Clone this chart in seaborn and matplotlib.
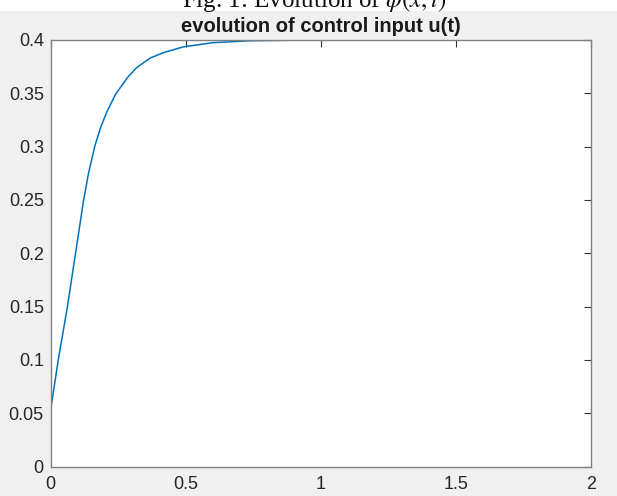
import matplotlib
matplotlib.use("Agg")
import matplotlib.pyplot as plt
import seaborn as sns
import pandas as pd
from matplotlib.patches import Rectangle

# valeurs
t = [0.0, 0.0, 0.004, 0.028, 0.062, 0.092, 0.122, 0.140, 0.164, 0.185, 0.207,
     0.24, 0.285, 0.318, 0.368, 0.416, 0.49, 0.6, 0.74, 0.9, 1.0, 1.5, 2.0]
u = [0.0, 0.055, 0.06, 0.1, 0.15, 0.2, 0.25, 0.275, 0.301, 0.318, 0.332,
     0.349, 0.365, 0.374, 0.383, 0.388, 0.3935, 0.3975, 0.3993, 0.3998, 0.4, 0.4, 0.4]
xticks = [0, 0.5, 1, 1.5, 2]
yticks = [0, 0.05, 0.1, 0.15, 0.2, 0.25, 0.3, 0.35, 0.4]
ytick_labels = ["0", "0.05", "0.1", "0.15", "0.2", "0.25", "0.3", "0.35", "0.4"]
xtick_labels = ["0", "0.5", "1", "1.5", "2"]

df = pd.DataFrame({"t": t, "u": u})

sns.set_style("white")
plt.rcParams["font.family"] = ["Liberation Sans", "DejaVu Sans"]
plt.rcParams["mathtext.fontset"] = "stix"

fig = plt.figure(figsize=(6.17, 4.96), dpi=100)
fig.patch.set_facecolor("#f0f0f0")

# bande blanche du haut avec la légende coupée
fig.patches.append(Rectangle((0, 1 - 11 / 496), 1, 11 / 496, transform=fig.transFigure,
                             facecolor="white", edgecolor="none", zorder=0))
fig.text(0.51, 1 - 7 / 496, r"Fig. 1: Evolution of $\phi(x,t)$", ha="center", va="baseline",
         fontsize=18, family=["Liberation Serif", "DejaVu Serif"], color="#111111")

ax = fig.add_axes([50.7 / 617, 1 - 466.5 / 496, 540 / 617, 426.5 / 496])
sns.lineplot(data=df, x="t", y="u", ax=ax, sort=False, estimator=None,
             color="#0072BD", linewidth=1.1)

ax.set_xlim(0, 2)
ax.set_ylim(0, 0.4)
ax.set_xticks(xticks)
ax.set_xticklabels(xtick_labels)
ax.set_yticks(yticks)
ax.set_yticklabels(ytick_labels)
ax.set_xlabel("")
ax.set_ylabel("")
ax.set_title("evolution of control input u(t)", fontsize=14.5, fontweight="bold",
             color="#1a1a1a", pad=6)

for s in ax.spines.values():
    s.set_visible(True)
    s.set_color("#808080")
    s.set_linewidth(1.0)
ax.tick_params(direction="in", length=5, width=0.8, color="#333333",
               top=True, right=True, labelsize=13, labelcolor="#262626")
ax.tick_params(axis="x", pad=7)
ax.tick_params(axis="y", pad=5)

fig.savefig("out.png", dpi=100, facecolor=fig.get_facecolor())
